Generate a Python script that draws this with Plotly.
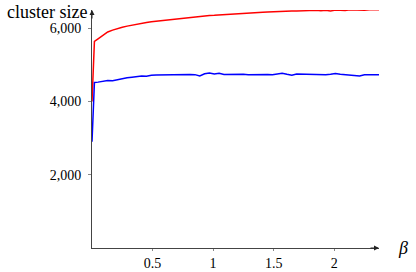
import plotly.graph_objects as go

beta = [0, 0.02, 0.05, 0.09, 0.13, 0.17, 0.21, 0.25, 0.29, 0.33, 0.37, 0.41, 0.45, 0.49,
        0.53, 0.57, 0.61, 0.65, 0.69, 0.73, 0.77, 0.81, 0.85, 0.89, 0.93, 0.97, 1.01,
        1.05, 1.09, 1.13, 1.17, 1.21, 1.25, 1.29, 1.33, 1.37, 1.41, 1.45, 1.49, 1.53,
        1.57, 1.61, 1.65, 1.69, 1.73, 1.77, 1.81, 1.85, 1.89, 1.93, 1.97, 2.01, 2.05,
        2.09, 2.13, 2.17, 2.21, 2.25, 2.29, 2.33, 2.37]

red_size = [4000, 5640, 5710, 5800, 5900, 5950, 5995, 6030, 6060, 6090, 6110, 6140,
            6160, 6180, 6195, 6210, 6220, 6240, 6255, 6270, 6290, 6305, 6315, 6325,
            6340, 6350, 6355, 6365, 6370, 6385, 6390, 6395, 6410, 6415, 6425, 6430,
            6440, 6445, 6455, 6460, 6465, 6470, 6475, 6470, 6480, 6485, 6480, 6490,
            6480, 6495, 6470, 6500, 6490, 6485, 6505, 6500, 6480, 6490, 6505, 6500, 6510]

blue_size = [2900, 4520, 4530, 4560, 4575, 4570, 4600, 4630, 4650, 4665, 4680, 4700,
             4690, 4720, 4725, 4730, 4720, 4735, 4730, 4740, 4745, 4740, 4735, 4700,
             4760, 4780, 4750, 4770, 4740, 4745, 4735, 4740, 4745, 4735, 4740, 4735,
             4745, 4740, 4735, 4745, 4775, 4745, 4720, 4750, 4745, 4760, 4740, 4745,
             4740, 4735, 4745, 4765, 4745, 4735, 4720, 4715, 4700, 4730, 4740, 4735, 4730]

x_ticks = [0.5, 1, 1.5, 2]
x_tick_text = ["0.5", "1", "1.5", "2"]
y_ticks = [2000, 4000, 6000]
y_tick_text = ["2,000", "4,000", "6,000"]

font = "Liberation Serif"

fig = go.Figure()
fig.add_trace(go.Scatter(x=beta, y=red_size, mode="lines", cliponaxis=False,
                         line=dict(color="#ff0000", width=1.5), showlegend=False))
fig.add_trace(go.Scatter(x=beta, y=blue_size, mode="lines", cliponaxis=False,
                         line=dict(color="#0000ff", width=1.5), showlegend=False))

fig.update_layout(
    width=416, height=272,
    margin=dict(l=92, r=37, t=10, b=24, autoexpand=False),
    paper_bgcolor="white", plot_bgcolor="white",
    font=dict(family=font, size=14, color="black"),
    xaxis=dict(range=[0, 2.37], showgrid=False, zeroline=False, showline=True,
               linecolor="#444", linewidth=1, ticks="outside", ticklen=2,
               tickcolor="#888", tickvals=x_ticks, ticktext=x_tick_text,
               ticklabelstandoff=0, automargin=False),
    yaxis=dict(range=[0, 6500], showgrid=False, zeroline=False, showline=True,
               linecolor="#444", linewidth=1, ticks="outside", ticklen=3,
               tickcolor="#888", tickvals=y_ticks, ticktext=y_tick_text,
               ticklabelstandoff=4, automargin=False),
    annotations=[
        dict(xref="paper", yref="paper", x=1, y=0, ax=-10, ay=0, text="",
             showarrow=True, arrowhead=2, arrowsize=1, arrowwidth=1, arrowcolor="#222"),
        dict(xref="paper", yref="paper", x=0, y=1, ax=0, ay=10, text="",
             showarrow=True, arrowhead=2, arrowsize=1, arrowwidth=1, arrowcolor="#222"),
        dict(xref="paper", yref="paper", x=-0.01, y=0.99, text="cluster size",
             showarrow=False, xanchor="right", yanchor="middle",
             font=dict(family=font, size=18)),
        dict(xref="paper", yref="paper", x=1.085, y=0.0, text="<i>β</i>",
             showarrow=False, xanchor="center", yanchor="middle",
             font=dict(family=font, size=18)),
    ],
)

fig.write_html("out.html", config={"displayModeBar": False},
               post_script="document.body.style.margin='0';document.body.style.overflow='hidden';")
